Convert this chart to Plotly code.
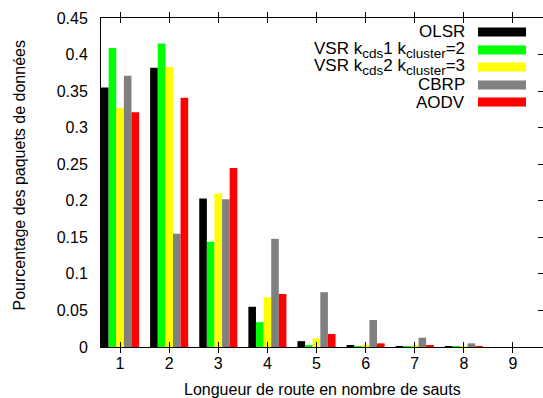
import plotly.graph_objects as go

hops = [1, 2, 3, 4, 5, 6, 7, 8, 9]
SUB = "<sub><span style='font-size:13.5px'>{}</span></sub>"
series_names = [
    "OLSR",
    "VSR k" + SUB.format("cds") + "1 k" + SUB.format("cluster") + "=2",
    "VSR k" + SUB.format("cds") + "2 k" + SUB.format("cluster") + "=3",
    "CBRP",
    "AODV",
]
colors = ["#000000", "#00ff00", "#ffff00", "#808080", "#ff0000"]

olsr = [0.355, 0.382, 0.203, 0.055, 0.008, 0.0025, 0.001, 0.0008, 0.0]
vsr1 = [0.409, 0.415, 0.144, 0.034, 0.0023, 0.001, 0.001, 0.0008, 0.0]
vsr2 = [0.327, 0.383, 0.210, 0.068, 0.012, 0.003, 0.002, 0.001, 0.0]
cbrp = [0.371, 0.155, 0.202, 0.148, 0.075, 0.037, 0.0127, 0.005, 0.0]
aodv = [0.321, 0.341, 0.245, 0.0725, 0.0178, 0.005, 0.0025, 0.001, 0.0]
values = [olsr, vsr1, vsr2, cbrp, aodv]

y_ticks = [0, 0.05, 0.1, 0.15, 0.2, 0.25, 0.3, 0.35, 0.4, 0.45]
y_tick_text = ["0", "0.05", "0.1", "0.15", "0.2", "0.25", "0.3", "0.35", "0.4", "0.45"]

x_title = "Longueur de route en nombre de sauts"
y_title = "Pourcentage des paquets de données"

font = dict(family="Liberation Sans, Arial, sans-serif", size=16, color="#000000")
legend_font = dict(family="Liberation Sans, Arial, sans-serif", size=17, color="#000000")

fig = go.Figure()
for name, vals, col in zip(series_names, values, colors):
    fig.add_trace(go.Bar(x=hops, y=vals, name=name, marker=dict(color=col, line=dict(width=0)),
                         showlegend=False))
# invisible trace for right-axis ticks
fig.add_trace(go.Scatter(x=[hops[0]], y=[0], yaxis="y2", mode="markers",
                         marker=dict(opacity=0), showlegend=False, hoverinfo="skip"))

yr = [0, 0.45]
xr = [0.612, 9.612]
plot_top, plot_h = 18, 329
plot_left, plot_w = 101, 442

fig.update_layout(
    width=543, height=398,
    margin=dict(l=plot_left, r=0, t=plot_top, b=398 - plot_top - plot_h, autoexpand=False),
    paper_bgcolor="white", plot_bgcolor="white",
    font=font,
    barmode="group", bargap=0.225, bargroupgap=0,
    xaxis=dict(range=xr, tickmode="array", tickvals=hops, ticktext=[str(h) for h in hops],
               ticks="inside", ticklen=5, tickcolor="black", mirror="allticks",
               showline=True, linecolor="black", linewidth=1, showgrid=False, zeroline=False,
               automargin=False, tickfont=font, ticklabelstandoff=2),
    yaxis=dict(range=yr, tickmode="array", tickvals=y_ticks, ticktext=y_tick_text,
               ticks="", showline=True, linecolor="black", linewidth=1, mirror=True,
               showgrid=False, zeroline=False, tickfont=font, automargin=False,
               ticklabelstandoff=9),
    yaxis2=dict(range=yr, overlaying="y", side="right", tickmode="array", tickvals=y_ticks,
                ticks="inside", ticklen=5, tickcolor="black", showticklabels=False,
                showline=False, showgrid=False, zeroline=False, automargin=False),
)

# axis titles
fig.add_annotation(x=0.5, y=(plot_top + plot_h - 389) / plot_h, xref="paper", yref="paper",
                   text=x_title, showarrow=False, xanchor="center", yanchor="middle", font=font)
fig.add_annotation(x=(19 - plot_left) / plot_w, y=(plot_top + plot_h - 175.5) / plot_h,
                   xref="paper", yref="paper",
                   text=y_title, showarrow=False, textangle=-90,
                   xanchor="center", yanchor="middle", font=font)

# custom legend (text right-aligned, swatch to the right)
row_px = [32, 50, 67, 85, 102]
for name, col, ry in zip(series_names, colors, row_px):
    yp = (plot_top + plot_h - ry) / plot_h
    fig.add_annotation(x=(467 - plot_left) / plot_w, y=yp, xref="paper", yref="paper",
                       text=name, showarrow=False, xanchor="right", yanchor="middle",
                       font=legend_font)
    fig.add_shape(type="rect", xref="paper", yref="paper",
                  x0=(478 - plot_left) / plot_w, x1=(526 - plot_left) / plot_w,
                  y0=yp - 4.5 / plot_h, y1=yp + 4.5 / plot_h,
                  fillcolor=col, line=dict(width=0))

fig.write_html("out.html", config={"displayModeBar": False},
               post_script="document.body.style.margin='0';document.body.style.overflow='hidden';")
